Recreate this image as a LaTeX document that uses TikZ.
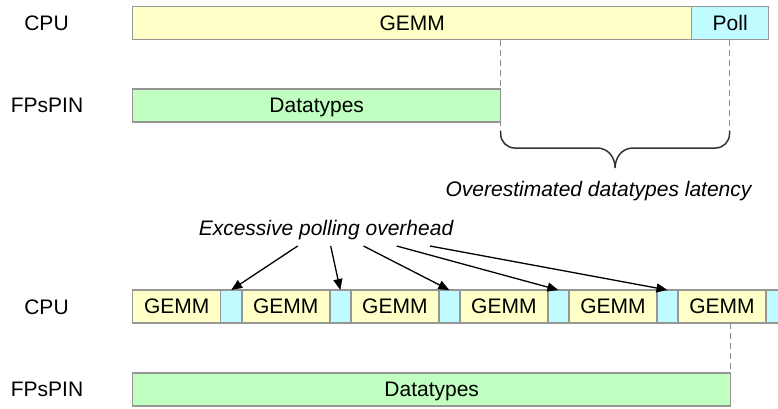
\documentclass[tikz,border=0pt]{standalone}
\usepackage{fontspec}
\setmainfont{Liberation Sans}
\usetikzlibrary{arrows.meta}
\definecolor{gemmfill}{RGB}{255,255,200}
\definecolor{pollfill}{RGB}{192,252,255}
\definecolor{dtfill}{RGB}{192,255,192}
\definecolor{boxline}{RGB}{150,150,150}
\definecolor{dashline}{RGB}{140,140,140}
\tikzset{
  bar/.style={draw=boxline, line width=1.5pt, inner sep=0pt, outer sep=0pt, anchor=north west,
    text depth=0pt, font=\fontsize{21}{24}\selectfont},
  gemmbox/.style={bar, fill=gemmfill},
  pollbox/.style={bar, fill=pollfill},
  dtbox/.style={bar, fill=dtfill},
  rowlabel/.style={font=\fontsize{21}{24}\selectfont, inner sep=0pt, text depth=0pt},
  note/.style={font=\fontsize{21}{24}\selectfont\itshape, inner sep=0pt, text depth=0pt},
  guide/.style={draw=dashline, line width=1pt, dash pattern=on 6pt off 4pt},
  pointer/.style={draw=black, line width=1.3pt, -{Triangle[length=11pt,width=9pt]}},
  bracestyle/.style={draw=black!80, line width=1.5pt}
}
\begin{document}
\begin{tikzpicture}[x=1pt,y=-1pt]
\useasboundingbox (0,0) rectangle (778,408);
\fill[white] (0,0) rectangle (778,408);
% ---- top scenario ----
\node[rowlabel] (cpuA) at (46.5,23.3) {CPU};
\node[rowlabel] (fpA) at (47,105.5) {FPsPIN};
\node[gemmbox, minimum width=559pt, minimum height=33pt] (gA) at (132.7,6.7) {GEMM};
\node[pollbox, minimum width=77pt, minimum height=33pt] (pA) at (691.7,6.7) {Poll};
\node[dtbox, minimum width=368pt, minimum height=33pt] (dA) at (132.7,89) {Datatypes};
\coordinate (t1) at (500.7,39.7);
\coordinate (b1) at (500.7,131);
\coordinate (t2) at (729.5,39.7);
\coordinate (b2) at (729.5,131);
\path[guide] (t1) -- (b1);
\path[guide] (t2) -- (b2);
\path[bracestyle] (b1) -- (500.7,134) .. controls (500.7,141.7) and (507,148) .. (514.7,148)
  -- (597,148) .. controls (608,148) and (615,157) .. (615.1,168)
  .. controls (615.2,157) and (622,148) .. (633.2,148)
  -- (715.5,148) .. controls (723.2,148) and (729.5,141.7) .. (729.5,134) -- (b2);
\node[note] (overA) at (598.5,189) {Overestimated datatypes latency};
% ---- bottom scenario ----
\node[rowlabel] (cpuB) at (46.5,307) {CPU};
\node[rowlabel] (fpB) at (47,389.5) {FPsPIN};
\begin{scope}
\clip (0,0) rectangle (778,408);
\foreach \k in {0,...,5}{
  \node[gemmbox, minimum width=88pt, minimum height=33pt] (g\k) at ({132.7+109.06*\k},290) {GEMM};
  \node[pollbox, minimum width=21pt, minimum height=33pt] (c\k) at ({220.7+109.06*\k},290) {};
}
\end{scope}
\node[dtbox, minimum width=598pt, minimum height=33pt] (dB) at (132.7,373) {Datatypes};
\coordinate (t3) at (730.5,323.3);
\path[guide] (t3) -- (t3 |- dB.north);
\node[note] (exc) at (326,228) {Excessive polling overhead};
\coordinate (s1) at (297.7,246);
\coordinate (s2) at (330.7,246);
\coordinate (s3) at (363.5,246);
\coordinate (s4) at (396.7,246);
\coordinate (s5) at (430,246);
\path[pointer] (s1) -- (c0.north);
\path[pointer] (s2) -- (c1.north);
\path[pointer] (s3) -- (c2.north);
\path[pointer] (s4) -- (c3.north);
\path[pointer] (s5) -- (c4.north);
\end{tikzpicture}
\end{document}
